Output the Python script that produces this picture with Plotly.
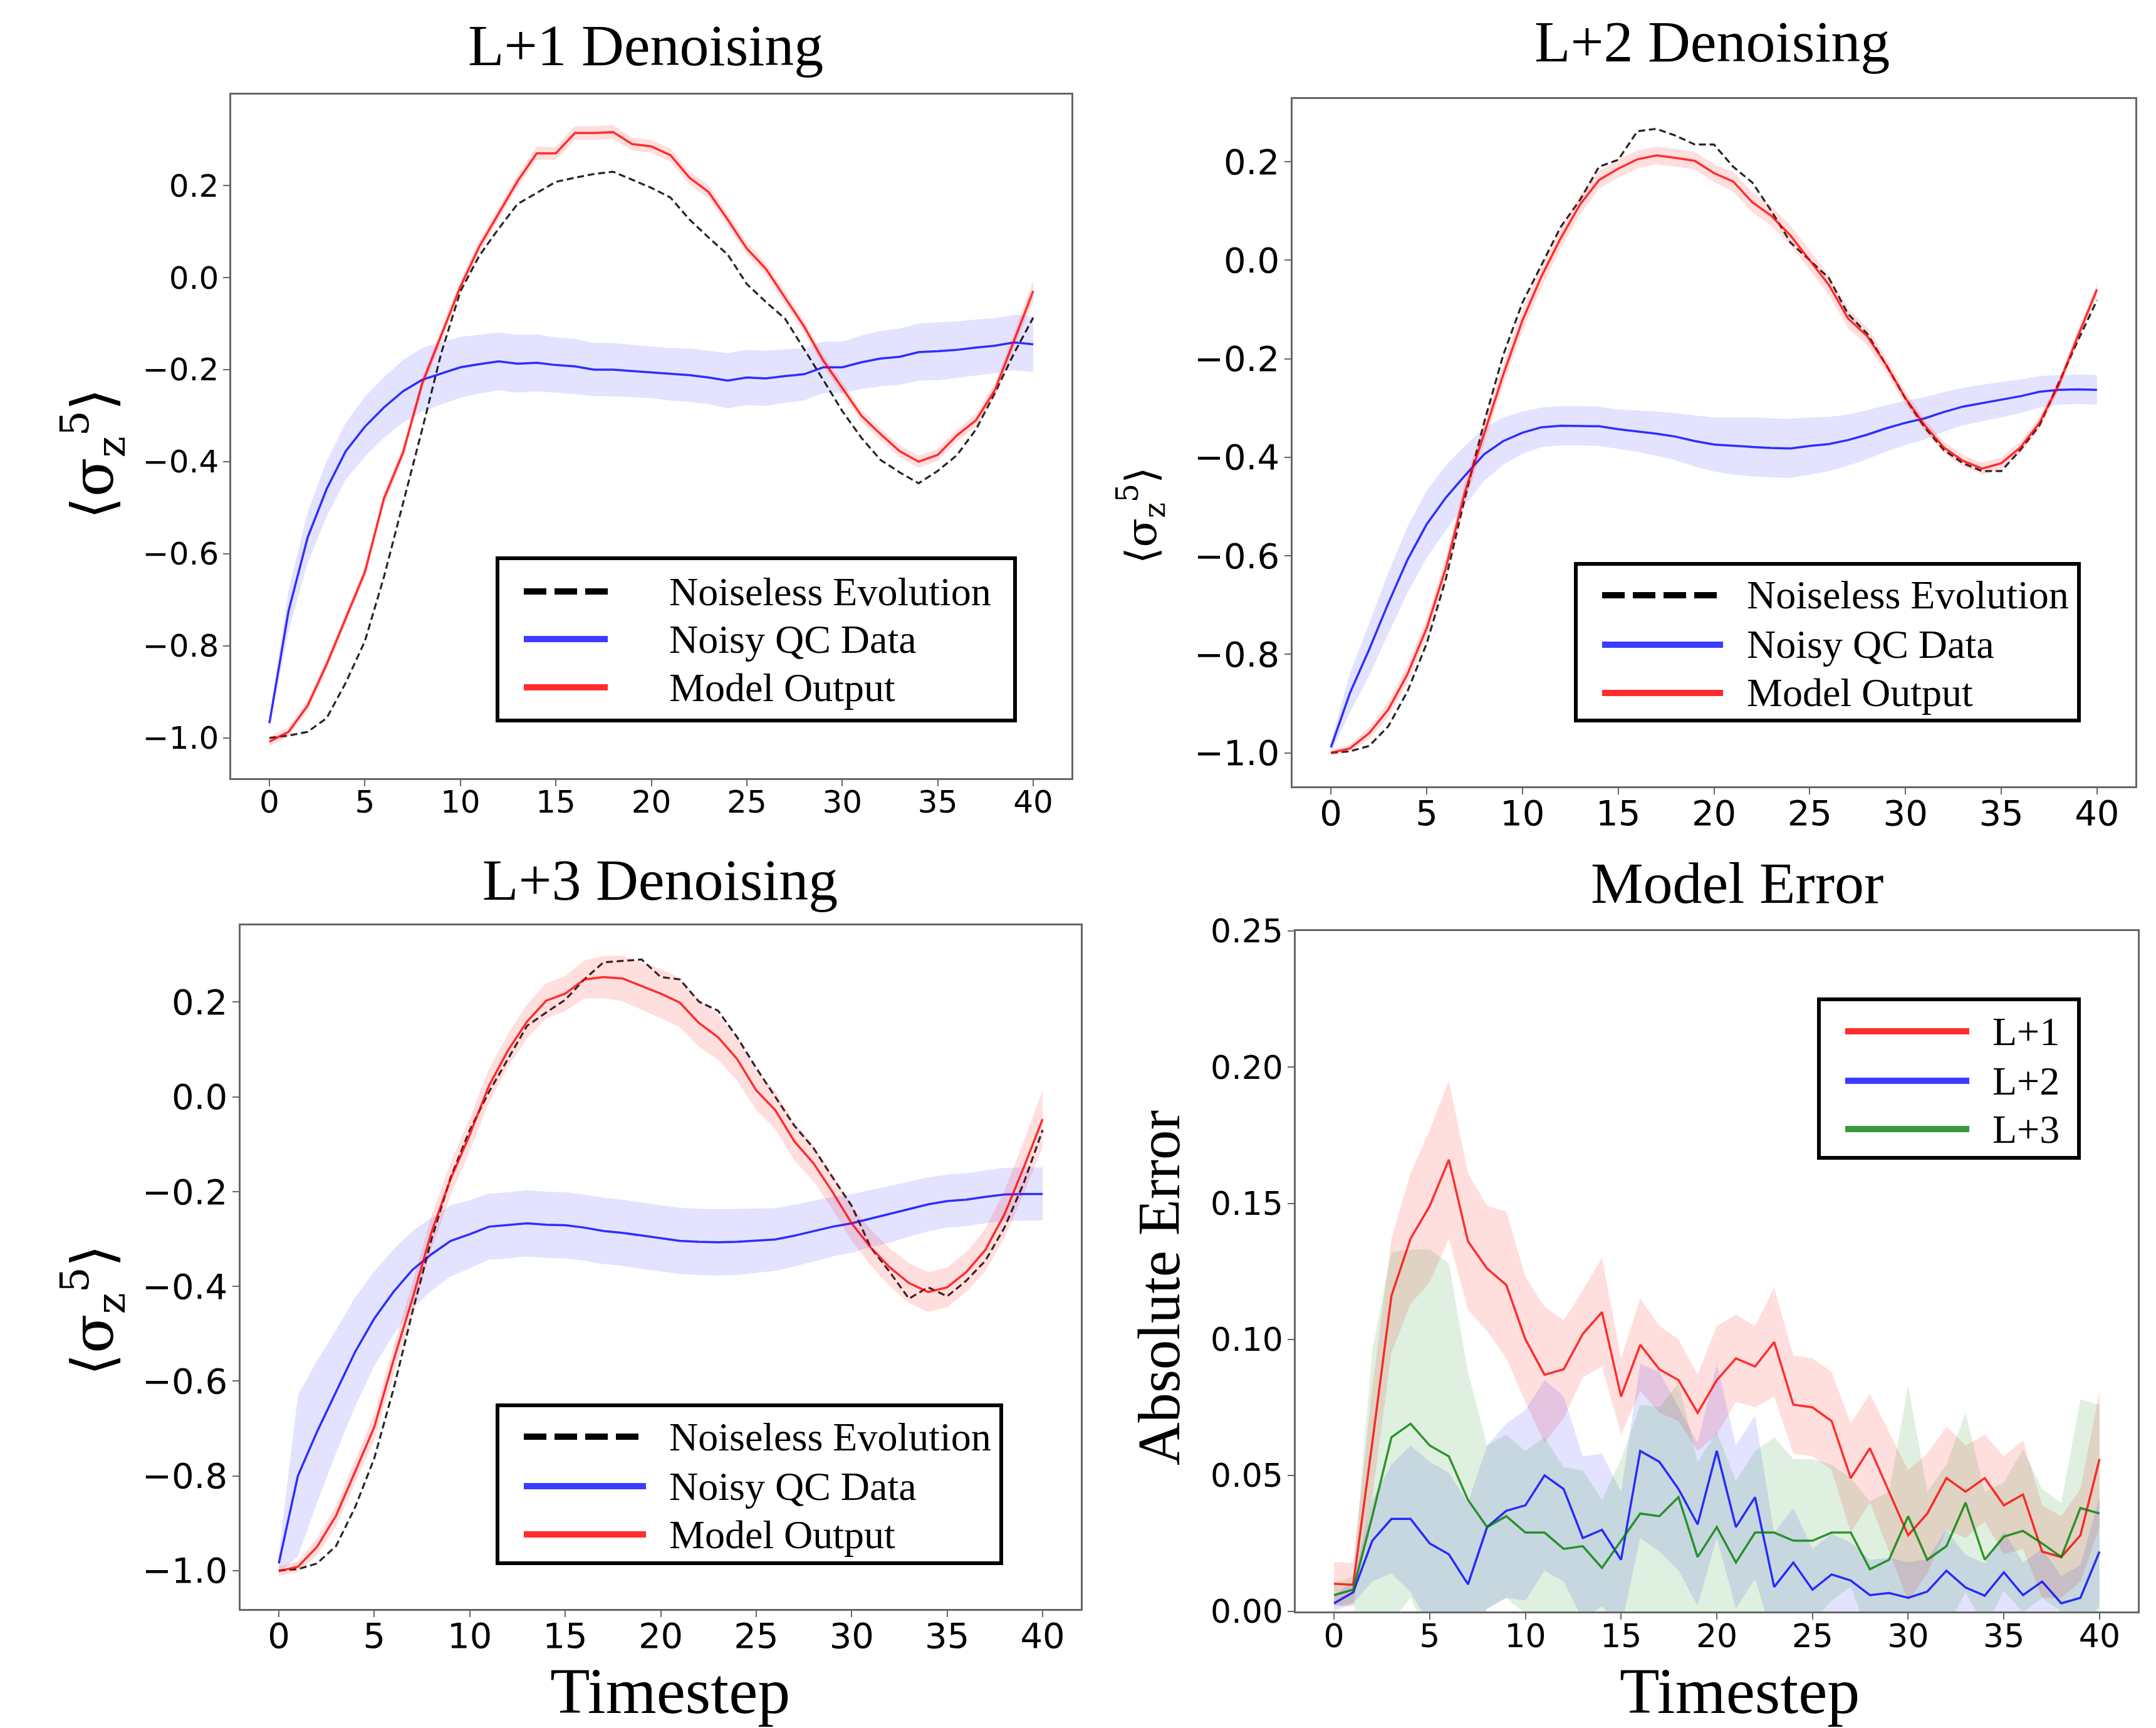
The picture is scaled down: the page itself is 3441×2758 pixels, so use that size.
import plotly.graph_objects as go

W, H = 3441, 2758
OFF = 8  # default page body margin
FW, FH = W - OFF, H - OFF

timesteps = list(range(41))

# ---------------- L+1 panel ----------------
noiseless1 = [-1.0, -0.995, -0.987, -0.957, -0.88, -0.79, -0.65, -0.49, -0.33, -0.164, -0.03, 0.048, 0.106, 0.16,
              0.184, 0.208, 0.217, 0.225, 0.23, 0.213, 0.195, 0.174, 0.126, 0.087, 0.05, -0.014, -0.053, -0.089,
              -0.155, -0.222, -0.29, -0.348, -0.396, -0.423, -0.447, -0.42, -0.386, -0.33, -0.25, -0.164, -0.087]
model1 = [-1.008, -0.987, -0.93, -0.84, -0.74, -0.64, -0.48, -0.38, -0.23, -0.126, -0.02, 0.068, 0.14, 0.21, 0.27,
          0.27, 0.314, 0.314, 0.316, 0.29, 0.285, 0.266, 0.217, 0.186, 0.126, 0.063, 0.019, -0.043, -0.106, -0.18,
          -0.24, -0.30, -0.34, -0.377, -0.40, -0.385, -0.343, -0.31, -0.244, -0.135, -0.029]
model1_std = [0.01, 0.01, 0.012, 0.012, 0.012, 0.012, 0.014, 0.014, 0.014, 0.014, 0.013, 0.013, 0.013, 0.013, 0.014,
              0.014, 0.015, 0.015, 0.015, 0.014, 0.014, 0.014, 0.014, 0.014, 0.013, 0.013, 0.013, 0.013, 0.013,
              0.013, 0.013, 0.013, 0.013, 0.013, 0.013, 0.013, 0.013, 0.014, 0.015, 0.018, 0.022]
noisy1 = [-0.968, -0.725, -0.565, -0.459, -0.377, -0.324, -0.282, -0.247, -0.222, -0.208, -0.195, -0.188, -0.182,
          -0.187, -0.185, -0.19, -0.193, -0.2, -0.2, -0.203, -0.206, -0.21, -0.212, -0.217, -0.224, -0.217, -0.219,
          -0.214, -0.21, -0.195, -0.195, -0.184, -0.176, -0.172, -0.162, -0.16, -0.157, -0.152, -0.148, -0.141,
          -0.145]
noisy1_std = [0.01, 0.045, 0.055, 0.06, 0.062, 0.065, 0.066, 0.068, 0.069, 0.068, 0.066, 0.064, 0.063, 0.063, 0.062,
              0.06, 0.06, 0.058, 0.058, 0.057, 0.056, 0.057, 0.058, 0.058, 0.06, 0.06, 0.06, 0.058, 0.057, 0.056,
              0.056, 0.058, 0.06, 0.061, 0.062, 0.063, 0.062, 0.061, 0.06, 0.06, 0.06]

# ---------------- L+2 panel ----------------
noiseless2 = [-1.0, -0.997, -0.986, -0.946, -0.875, -0.778, -0.647, -0.482, -0.329, -0.192, -0.086, -0.009, 0.068,
              0.122, 0.19, 0.204, 0.262, 0.267, 0.253, 0.235, 0.235, 0.19, 0.158, 0.1, 0.036, 0.0, -0.036, -0.109,
              -0.149, -0.213, -0.281, -0.339, -0.385, -0.412, -0.428, -0.428, -0.385, -0.335, -0.249, -0.163, -0.081]
model2 = [-1.0, -0.991, -0.96, -0.912, -0.84, -0.747, -0.625, -0.47, -0.352, -0.232, -0.122, -0.032, 0.045, 0.113,
          0.163, 0.186, 0.205, 0.213, 0.208, 0.202, 0.177, 0.16, 0.118, 0.09, 0.05, 0.0, -0.05, -0.118, -0.154,
          -0.213, -0.28, -0.335, -0.38, -0.407, -0.423, -0.412, -0.38, -0.33, -0.253, -0.154, -0.059]
model2_std = [0.005, 0.008, 0.012, 0.015, 0.018, 0.02, 0.022, 0.022, 0.022, 0.022, 0.022, 0.022, 0.02, 0.02, 0.018,
              0.018, 0.018, 0.018, 0.018, 0.018, 0.018, 0.02, 0.02, 0.02, 0.02, 0.02, 0.02, 0.02, 0.018, 0.015,
              0.013, 0.012, 0.012, 0.012, 0.012, 0.012, 0.012, 0.012, 0.012, 0.012, 0.012]
noisy2 = [-0.989, -0.878, -0.79, -0.696, -0.608, -0.536, -0.482, -0.437, -0.394, -0.367, -0.35, -0.339, -0.336,
          -0.336, -0.337, -0.343, -0.347, -0.352, -0.358, -0.367, -0.374, -0.377, -0.379, -0.381, -0.382, -0.377,
          -0.373, -0.365, -0.354, -0.341, -0.33, -0.321, -0.308, -0.297, -0.29, -0.283, -0.276, -0.267, -0.263,
          -0.262, -0.263]
noisy2_std = [0.01, 0.04, 0.053, 0.062, 0.067, 0.068, 0.066, 0.06, 0.054, 0.048, 0.043, 0.04, 0.04, 0.04, 0.04, 0.04,
              0.042, 0.045, 0.048, 0.052, 0.055, 0.058, 0.06, 0.06, 0.06, 0.058, 0.055, 0.052, 0.05, 0.047, 0.045,
              0.043, 0.04, 0.038, 0.037, 0.036, 0.034, 0.032, 0.03, 0.03, 0.03]

# ---------------- L+3 panel ----------------
noiseless3 = [-1.0, -0.997, -0.985, -0.948, -0.866, -0.763, -0.618, -0.454, -0.3, -0.17, -0.07, 0.01, 0.08, 0.15,
              0.178, 0.205, 0.248, 0.284, 0.287, 0.29, 0.253, 0.248, 0.201, 0.182, 0.126, 0.061, 0.0, -0.061,
              -0.108, -0.17, -0.23, -0.318, -0.37, -0.426, -0.402, -0.421, -0.388, -0.346, -0.276, -0.183, -0.07]
model3 = [-1.001, -0.992, -0.95, -0.884, -0.791, -0.697, -0.557, -0.426, -0.285, -0.173, -0.08, 0.023, 0.098,
          0.159, 0.203, 0.218, 0.248, 0.253, 0.25, 0.234, 0.218, 0.199, 0.156, 0.126, 0.08, 0.014, -0.028, -0.094,
          -0.14, -0.201, -0.267, -0.318, -0.36, -0.393, -0.412, -0.402, -0.37, -0.323, -0.248, -0.15, -0.047]
model3_std = [0.01, 0.012, 0.018, 0.022, 0.025, 0.027, 0.03, 0.033, 0.035, 0.035, 0.035, 0.035, 0.035, 0.036, 0.037,
              0.037, 0.04, 0.045, 0.048, 0.05, 0.052, 0.052, 0.05, 0.048, 0.045, 0.042, 0.04, 0.04, 0.038, 0.037,
              0.037, 0.038, 0.04, 0.042, 0.042, 0.042, 0.042, 0.045, 0.05, 0.055, 0.06]
noisy3 = [-0.985, -0.8, -0.707, -0.622, -0.538, -0.468, -0.412, -0.365, -0.332, -0.304, -0.29, -0.274, -0.271,
          -0.267, -0.27, -0.271, -0.276, -0.283, -0.287, -0.293, -0.299, -0.304, -0.306, -0.307, -0.306, -0.304,
          -0.301, -0.293, -0.284, -0.274, -0.267, -0.257, -0.248, -0.237, -0.227, -0.22, -0.217, -0.211, -0.206,
          -0.205, -0.205]
noisy3_std = [0.02, 0.17, 0.15, 0.13, 0.115, 0.1, 0.09, 0.082, 0.077, 0.075, 0.072, 0.07, 0.07, 0.07, 0.07, 0.07,
              0.07, 0.07, 0.07, 0.07, 0.07, 0.07, 0.07, 0.07, 0.07, 0.068, 0.066, 0.065, 0.064, 0.063, 0.062, 0.06,
              0.06, 0.058, 0.057, 0.056, 0.056, 0.056, 0.056, 0.056, 0.056]

# ---------------- Model error panel ----------------
err1 = [0.0102, 0.0098, 0.062, 0.116, 0.137, 0.149, 0.166, 0.136, 0.126, 0.12, 0.1, 0.087, 0.089, 0.102, 0.11,
        0.079, 0.098, 0.089, 0.085, 0.073, 0.085, 0.093, 0.09, 0.099, 0.076, 0.075, 0.07, 0.049, 0.06, 0.044,
        0.028, 0.036, 0.049, 0.044, 0.049, 0.039, 0.043, 0.022, 0.02, 0.028, 0.056]
err1_std = [0.008, 0.008, 0.02, 0.021, 0.024, 0.028, 0.029, 0.025, 0.023, 0.027, 0.023, 0.025, 0.018, 0.016, 0.02,
            0.014, 0.017, 0.016, 0.015, 0.014, 0.02, 0.016, 0.015, 0.02, 0.018, 0.018, 0.018, 0.02, 0.02, 0.022,
            0.024, 0.022, 0.019, 0.017, 0.016, 0.018, 0.02, 0.017, 0.015, 0.017, 0.025]
err2 = [0.003, 0.007, 0.026, 0.034, 0.034, 0.025, 0.021, 0.01, 0.031, 0.037, 0.039, 0.05, 0.045, 0.027, 0.03,
        0.019, 0.059, 0.055, 0.045, 0.032, 0.059, 0.031, 0.042, 0.009, 0.018, 0.008, 0.0136, 0.0114, 0.006,
        0.0068, 0.005, 0.0073, 0.015, 0.0088, 0.0058, 0.0144, 0.006, 0.011, 0.003, 0.005, 0.022]
err2_std = [0.003, 0.004, 0.015, 0.02, 0.027, 0.03, 0.03, 0.03, 0.03, 0.032, 0.035, 0.035, 0.034, 0.03, 0.028,
            0.025, 0.032, 0.033, 0.03, 0.03, 0.032, 0.03, 0.03, 0.02, 0.02, 0.015, 0.015, 0.014, 0.013, 0.013,
            0.013, 0.012, 0.015, 0.012, 0.012, 0.015, 0.012, 0.012, 0.01, 0.012, 0.02]
err3 = [0.006, 0.008, 0.035, 0.064, 0.069, 0.061, 0.057, 0.041, 0.031, 0.035, 0.029, 0.029, 0.023, 0.024, 0.016,
        0.026, 0.036, 0.035, 0.042, 0.02, 0.031, 0.018, 0.029, 0.029, 0.026, 0.026, 0.029, 0.029, 0.0155, 0.019,
        0.035, 0.019, 0.024, 0.04, 0.019, 0.0275, 0.0296, 0.025, 0.02, 0.038, 0.036]
err3_std = [0.004, 0.005, 0.061, 0.068, 0.064, 0.072, 0.071, 0.047, 0.03, 0.03, 0.03, 0.035, 0.03, 0.028, 0.025,
            0.03, 0.04, 0.04, 0.042, 0.035, 0.035, 0.03, 0.03, 0.035, 0.03, 0.03, 0.025, 0.02, 0.025, 0.025,
            0.048, 0.025, 0.03, 0.033, 0.025, 0.02, 0.03, 0.02, 0.02, 0.04, 0.04]

# ---------------- styles ----------------
RED = "rgba(255,0,0,0.8)"
BLUE = "rgba(0,0,255,0.8)"
GREEN = "rgba(0,128,0,0.8)"
BLACK = "rgba(0,0,0,0.85)"
RED_F = "rgba(255,0,0,0.13)"
BLUE_F = "rgba(0,0,255,0.11)"
GREEN_F = "rgba(0,128,0,0.12)"
FRAME = "#666666"
SERIF = "Liberation Serif, Times New Roman, serif"
SANS = "DejaVu Sans, sans-serif"


def px(x):
    return (x - OFF) / FW


def py(y):
    return 1 - (y - OFF) / FH


fig = go.Figure()


def band(xa, ya, mean, std, color):
    upper = [m + s for m, s in zip(mean, std)]
    lower = [m - s for m, s in zip(mean, std)]
    fig.add_trace(go.Scatter(x=timesteps + timesteps[::-1], y=upper + lower[::-1], fill="toself",
                             fillcolor=color, line=dict(width=0), mode="lines", hoverinfo="skip",
                             xaxis=xa, yaxis=ya, showlegend=False))


def line(xa, ya, vals, color, dash=None, width=3.5):
    fig.add_trace(go.Scatter(x=timesteps, y=vals, mode="lines",
                             line=dict(color=color, width=width, dash=dash),
                             xaxis=xa, yaxis=ya, showlegend=False))


panels = [
    ("x", "y", noiseless1, noisy1, noisy1_std, model1, model1_std),
    ("x2", "y2", noiseless2, noisy2, noisy2_std, model2, model2_std),
    ("x3", "y3", noiseless3, noisy3, noisy3_std, model3, model3_std),
]
for xa, ya, nl, nz, nzs, md, mds in panels:
    band(xa, ya, nz, nzs, BLUE_F)
    line(xa, ya, nl, BLACK, dash="11px,6px", width=3.2)
    line(xa, ya, nz, BLUE)
    band(xa, ya, md, mds, RED_F)
    line(xa, ya, md, RED)

band("x4", "y4", err1, err1_std, RED_F)
band("x4", "y4", err2, err2_std, BLUE_F)
band("x4", "y4", err3, err3_std, GREEN_F)
line("x4", "y4", err1, RED)
line("x4", "y4", err2, BLUE)
line("x4", "y4", err3, GREEN)


def xaxis(l, r, anchor, size):
    return dict(domain=[px(l), px(r)], range=[-2, 42], tick0=0, dtick=5, anchor=anchor, automargin=False,
                showline=True, mirror=True, linecolor=FRAME, linewidth=2.5, ticks="outside", ticklen=10,
                tickwidth=2, tickcolor=FRAME, showgrid=False, zeroline=False, ticklabelstandoff=-18,
                tickfont=dict(family=SANS, size=size, color="black"))


def yaxis(t, b, anchor, rng, dtick, fmt, size):
    return dict(domain=[py(b), py(t)], range=rng, tick0=0, dtick=dtick, tickformat=fmt, anchor=anchor,
                automargin=False, ticklabelstandoff=-3,
                showline=True, mirror=True, linecolor=FRAME, linewidth=2.5, ticks="outside", ticklen=10,
                tickwidth=2, tickcolor=FRAME, showgrid=False, zeroline=False,
                tickfont=dict(family=SANS, size=size, color="black"))


fig.update_layout(
    width=FW, height=FH, margin=dict(l=0, r=0, t=0, b=0, pad=0, autoexpand=False),
    paper_bgcolor="white", plot_bgcolor="white", showlegend=False,
    xaxis=xaxis(369, 1710, "y", 50),
    yaxis=yaxis(151, 1242, "x", [-1.0875, 0.3975], 0.2, ".1f", 50),
    xaxis2=xaxis(2063, 3408, "y2", 56),
    yaxis2=yaxis(158, 1255, "x2", [-1.068, 0.3275], 0.2, ".1f", 56),
    xaxis3=xaxis(384, 1725, "y3", 56),
    yaxis3=yaxis(1477, 2568, "x3", [-1.081, 0.362], 0.2, ".1f", 56),
    xaxis4=xaxis(2068, 3412, "y4", 52),
    yaxis4=yaxis(1486, 2572, "x4", [0, 0.25005], 0.05, ".2f", 52),
)

ann = []


def text(x, y, s, size, family=SERIF, angle=0, xanchor="center", yanchor="middle"):
    ann.append(dict(x=px(x), y=py(y), xref="paper", yref="paper", text=s, showarrow=False,
                    font=dict(family=family, size=size, color="black"), textangle=angle,
                    xanchor=xanchor, yanchor=yanchor))


# titles
text(1030, 72, "L+1 Denoising", 94)
text(2732, 66, "L+2 Denoising", 94)
text(1053, 1404, "L+3 Denoising", 94)
text(2772, 1409, "Model Error", 94)
# axis titles
text(1069, H, "Timestep", 104, yanchor="bottom")
text(2776, H, "Timestep", 104, yanchor="bottom")
SIG = "⟨σ<sub>z</sub><sup>5</sup>⟩"
text(147, 724, SIG, 92, family="DejaVu Serif, serif", angle=-90)
text(1821, 823, SIG, 68, family="DejaVu Serif, serif", angle=-90)
text(147, 2091, SIG, 92, family="DejaVu Serif, serif", angle=-90)
text(1850, 2056, "Absolute Error", 95, angle=-90)

shapes = []


def legend(box, x0, x1, xt, rows, labels, colors, dashes, fs):
    bl, bt, br, bb = box
    shapes.append(dict(type="rect", xref="paper", yref="paper", x0=px(bl), x1=px(br), y0=py(bb), y1=py(bt),
                       line=dict(color="black", width=6), fillcolor="white", layer="above"))
    for ry, lab, col, ds in zip(rows, labels, colors, dashes):
        shapes.append(dict(type="line", xref="paper", yref="paper", x0=px(x0), x1=px(x1), y0=py(ry), y1=py(ry),
                           line=dict(color=col, width=10, dash=ds), layer="above"))
        text(xt, ry, lab, fs, xanchor="left")


labs = ["Noiseless Evolution", "Noisy QC Data", "Model Output"]
cols = ["black", "rgb(60,60,255)", "rgb(255,45,45)"]
dsh = ["36px,13px", "solid", "solid"]
legend((794, 891, 1620, 1150), 836, 970, 1066, [944, 1020, 1097], labs, cols, dsh, 64)
legend((2515, 900, 3318, 1150), 2557, 2750, 2786, [950, 1029, 1106], labs, cols, dsh, 64)
legend((794, 2243, 1598, 2495), 836, 1031, 1066, [2293, 2372, 2449], labs, cols, dsh, 64)
legend((2903, 1595, 3318, 1848), 2945, 3143, 3178, [1646, 1725, 1802], ["L+1", "L+2", "L+3"],
       ["rgb(255,45,45)", "rgb(60,60,255)", "rgb(60,150,60)"], ["solid", "solid", "solid"], 64)

fig.update_layout(annotations=ann, shapes=shapes)
fig.write_html("out.html")
